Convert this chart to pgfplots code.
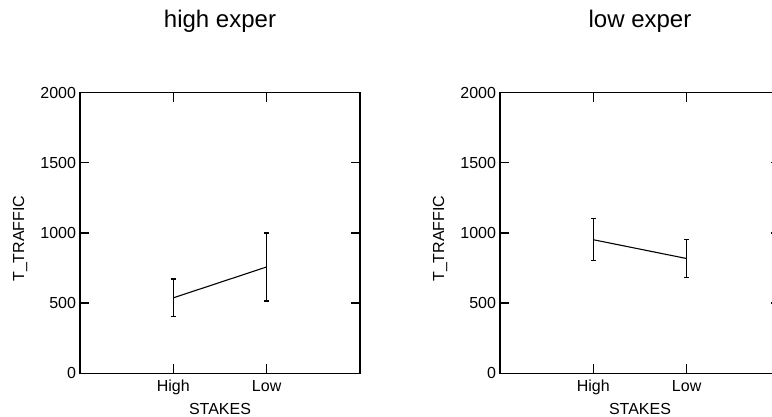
\documentclass[border=0pt]{standalone}
\usepackage{pgfplots}
\pgfplotsset{compat=1.18}
\usepackage{fontspec}
\setmainfont{Liberation Sans}
\begin{document}
\begin{tikzpicture}
\pgfplotsset{
 panel/.style={
  scale only axis, width=280bp, height=280.6bp,
  xmin=0,xmax=3,ymin=0,ymax=2000,
  xtick={1,2}, xticklabels={High,Low},
  ytick={0,500,1000,1500,2000},
  tick align=inside, major tick length=9.3bp,
  line width=1.3bp,
  axis line style={line width=1.3bp},
  every tick/.style={line width=1.3bp, black},
  tick label style={font=\fontsize{16bp}{19bp}\selectfont},
  /pgf/number format/assume math mode=true,
  /pgf/number format/set thousands separator={},
  xticklabel style={yshift=-3bp},
  xlabel={STAKES}, ylabel={T\_TRAFFIC},
  label style={font=\fontsize{16bp}{19bp}\selectfont},
  xlabel style={at={(axis description cs:0.5,-0.146)}, anchor=base},
  ylabel style={at={(axis description cs:-0.214,0.48)}, anchor=center},
  title style={at={(axis description cs:0.5,1)}, anchor=base, yshift=59.4bp, font=\fontsize{24bp}{28bp}\selectfont, inner sep=0pt},
  clip=false,
 },
 eb/.style={black, line width=1.1bp, mark=none,
   error bars/.cd, y dir=both, y explicit,
   error bar style={line width=1.3bp},
   error mark options={rotate=90, mark size=2.2bp, line width=1.3bp}},
}
\begin{axis}[panel, at={(80bp,43.7bp)}, anchor=south west, title={high exper}]
\addplot[eb] coordinates {(1,538) +- (0,135) (2,758) +- (0,242)};
\end{axis}
\begin{axis}[panel, at={(500bp,43.7bp)}, anchor=south west, title={low exper}]
\addplot[eb] coordinates {(1,952) +- (0,150) (2,818) +- (0,135)};
\end{axis}
\pgfresetboundingbox
\path[use as bounding box] (0bp,0bp) rectangle (772bp,417bp);
\end{tikzpicture}
\end{document}
